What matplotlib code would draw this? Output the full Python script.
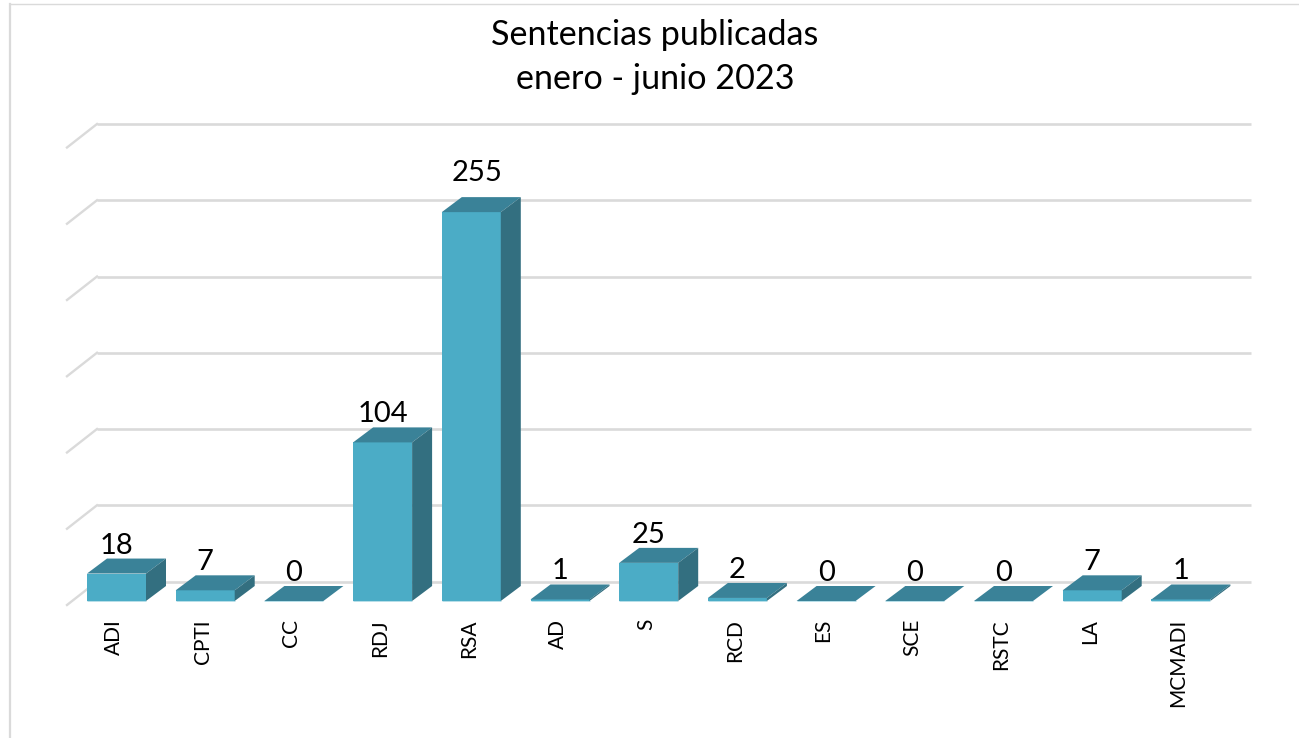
import matplotlib
matplotlib.use("Agg")
import matplotlib.pyplot as plt
from matplotlib.lines import Line2D
from matplotlib.patches import Polygon
from matplotlib.transforms import ScaledTranslation

categories = ["ADI", "CPTI", "CC", "RDJ", "RSA", "AD", "S", "RCD", "ES", "SCE", "RSTC", "LA", "MCMADI"]
values = [18, 7, 0, 104, 255, 1, 25, 2, 0, 0, 0, 7, 1]
grid_levels = [0, 50, 100, 150, 200, 250, 300]
title = "Sentencias publicadas\nenero - junio 2023"

W, H = 1299, 738
BASE_PX = 601
PX_PER_UNIT = 1.525
PX_PER_CAT = 88.7
CAT0_PX = 116.5

FRONT = "#4BACC6"
TOP = "#3A8298"
SIDE = "#336F80"
GRID = "#DADADA"

plt.rcParams["font.family"] = ["Lato", "DejaVu Sans"]
fig = plt.figure(figsize=(W / 100, H / 100), dpi=100, facecolor="white")
ax = fig.add_axes([0, (H - BASE_PX) / H, 1, BASE_PX / H])
ax.set_xlim(-CAT0_PX / PX_PER_CAT, (W - CAT0_PX) / PX_PER_CAT)
ax.set_ylim(0, BASE_PX / PX_PER_UNIT)
for s in ax.spines.values():
    s.set_visible(False)
ax.patch.set_visible(False)

def x_px(p):
    return (p - CAT0_PX) / PX_PER_CAT

def dy_px(p):
    return p / PX_PER_UNIT

# back wall gridlines with the left-wall diagonals
wall_up = dy_px(19.5)
for lv in grid_levels:
    y = lv + wall_up
    ax.plot([x_px(97), x_px(1251)], [y, y], color=GRID, lw=1.9, zorder=1, clip_on=False,
            solid_capstyle="butt")
    ax.plot([x_px(67), x_px(97)], [y - dy_px(23.5), y], color=GRID, lw=1.7, zorder=1, clip_on=False)

# bars with their depth faces
bar_w = 59 / PX_PER_CAT
dx = 20 / PX_PER_CAT
dy = dy_px(15)
xs = list(range(len(categories)))
ax.bar(xs, values, width=bar_w, color=FRONT, linewidth=0, zorder=3)
for i, v in zip(xs, values):
    l, r = i - bar_w / 2, i + bar_w / 2
    ax.add_patch(Polygon([(l, v), (l + dx, v + dy), (r + dx, v + dy), (r, v)],
                         closed=True, facecolor=TOP, edgecolor="none", zorder=3, clip_on=False))
    if v > 0:
        ax.add_patch(Polygon([(r, 0), (r + dx, dy), (r + dx, v + dy), (r, v)],
                             closed=True, facecolor=SIDE, edgecolor="none", zorder=3, clip_on=False))
    ax.plot([l, r], [0, 0], color="#B5DDE8", lw=0.7, zorder=4, clip_on=False, solid_capstyle="butt")

# value labels; the tallest label sits a little higher and to the right, as in the source
peak = max(values)
for i, v in zip(xs, values):
    off_x, off_y = (5.5, 39) if v == peak else (0, 28)
    ax.annotate(str(v), xy=(i, v), xytext=(off_x * 0.72, off_y * 0.72), textcoords="offset points",
                ha="center", va="center", fontsize=21, color="black", zorder=5)

# category labels
ax.set_yticks([])
ax.set_xticks(xs)
ax.set_xticklabels(categories, rotation=90, fontsize=15, color="black", ha="center", va="top")
ax.tick_params(axis="x", length=0, pad=13)
shift = ScaledTranslation(-2.5 / 100, 0, fig.dpi_scale_trans)
for lab in ax.get_xticklabels():
    lab.set_transform(lab.get_transform() + shift)

fig.text(655 / W, 1 - 57 / H, title, ha="center", va="center", fontsize=24.6, color="black",
         linespacing=1.45)

# chart frame
fig.add_artist(Line2D([10 / W, 10 / W], [0, 1 - 4 / H], color=GRID, lw=1.6))
fig.add_artist(Line2D([10 / W, 1], [1 - 4 / H, 1 - 4 / H], color=GRID, lw=1.0))

fig.savefig("out.png", dpi=100)
